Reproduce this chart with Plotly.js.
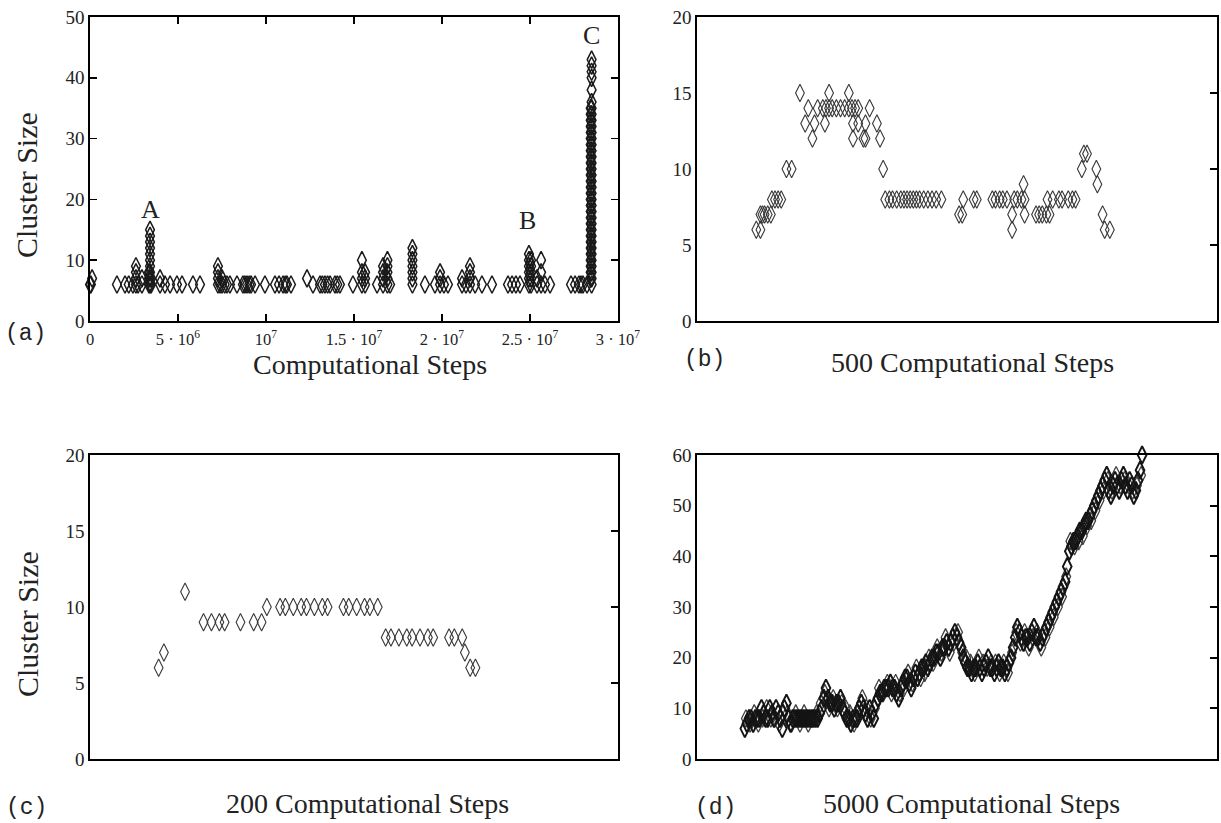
<!DOCTYPE html>
<html>
<head>
<meta charset="utf-8">
<script src="https://cdn.plot.ly/plotly-3.0.1.min.js"></script>
<style>html,body{margin:0;padding:0;background:#fff}#chart{width:1221px;height:823px}</style>
</head>
<body>
<div id="chart"></div>
<script>
// ---------- Panel (a): whole run, steps in units of 10^6 ----------
const stepsA = [
  0.00, 0.05, 0.12,
  1.53, 1.99, 2.20, 2.44,
  2.61, 2.61, 2.61, 2.61,
  2.73, 2.95, 2.95,
  3.35, 3.35, 3.35,
  3.41, 3.41, 3.41, 3.41, 3.41, 3.41, 3.41, 3.41, 3.41, 3.41,
  3.47, 3.47,
  3.98, 3.98, 4.26, 4.55, 4.94, 5.23, 5.85, 6.25,
  7.27, 7.27, 7.27, 7.27, 7.39, 7.50, 7.50, 7.65, 7.78, 7.95, 8.35,
  8.69, 8.80, 8.92, 9.05, 9.15, 9.38, 9.94,
  10.51, 10.74, 10.97, 11.10, 11.19, 11.42,
  12.33, 12.67,
  13.07, 13.20, 13.35, 13.50, 13.64, 13.92, 14.05, 14.20, 14.94,
  15.45, 15.45, 15.45, 15.45, 15.63, 15.63, 15.63,
  16.31,
  16.65, 16.65, 16.65, 16.65, 16.90, 16.90, 16.90, 16.90, 16.90, 17.05,
  18.32, 18.32, 18.32, 18.32, 18.32, 18.32, 18.32,
  19.03, 19.60, 19.89, 19.89, 19.89, 20.11, 20.34,
  21.14, 21.14, 21.36, 21.59, 21.59, 21.59, 21.59, 21.88, 22.27, 22.84,
  23.75, 23.98, 24.20, 24.43,
  24.94, 24.94, 24.94, 24.94, 24.94, 24.94,
  25.06, 25.06, 25.06, 25.06, 25.06,
  25.40, 25.40, 25.63, 25.63, 25.63, 25.85, 26.14,
  27.33, 27.56, 27.78, 27.90, 28.01, 28.24,
  28.45, 28.45, 28.45, 28.45, 28.45, 28.45, 28.45, 28.45, 28.45, 28.45,
  28.45, 28.45, 28.45, 28.45, 28.45, 28.45, 28.45, 28.45, 28.45, 28.45,
  28.45, 28.45, 28.45, 28.45, 28.45, 28.45, 28.45, 28.45, 28.45,
  28.50, 28.50, 28.50, 28.50, 28.50, 28.50, 28.50, 28.50, 28.50, 28.50,
  28.50, 28.50, 28.50, 28.50, 28.50, 28.50, 28.50, 28.50, 28.50, 28.50,
  28.50, 28.50, 28.50, 28.50, 28.50, 28.50, 28.50, 28.50, 28.50, 28.50,
  28.50, 28.50, 28.50, 28.50, 28.50, 28.50
];
const sizeA = [
  6, 6, 7,
  6, 6, 6, 6,
  6, 7, 8, 9,
  6, 6, 7,
  6, 7, 8,
  6, 7, 8, 9, 10, 11, 12, 13, 14, 15,
  7, 6,
  6, 7, 6, 6, 6, 6, 6, 6,
  6, 7, 8, 9, 6, 6, 7, 6, 6, 6, 6,
  6, 6, 6, 6, 6, 6, 6,
  6, 6, 6, 6, 6, 6,
  7, 6,
  6, 6, 6, 6, 6, 6, 6, 6, 6,
  6, 7, 8, 10, 6, 7, 8,
  6,
  6, 7, 8, 9, 6, 7, 8, 9, 10, 6,
  6, 7, 8, 9, 10, 11, 12,
  6, 6, 6, 7, 8, 6, 6,
  6, 7, 6, 6, 7, 8, 9, 6, 6, 6,
  6, 6, 6, 6,
  6, 7, 8, 9, 10, 11,
  6, 7, 8, 9, 10,
  6, 7, 6, 8, 10, 6, 6,
  6, 6, 6, 6, 6, 6,
  7, 8, 9, 10, 11, 12, 13, 14, 15, 16,
  17, 18, 19, 20, 21, 22, 23, 24, 25, 26,
  27, 28, 29, 30, 31, 32, 33, 34, 35,
  6, 7, 8, 9, 10, 11, 12, 13, 14, 15,
  16, 17, 18, 19, 20, 21, 22, 23, 24, 25,
  26, 27, 28, 29, 30, 31, 32, 33, 34, 35,
  36, 38, 40, 41, 42, 43
];
const tickValsA = [0, 5, 10, 15, 20, 25, 30];
const tickTextA = ['0', '5 · 10<sup>6</sup>', '10<sup>7</sup>', '1.5 · 10<sup>7</sup>',
                   '2 · 10<sup>7</sup>', '2.5 · 10<sup>7</sup>', '3 · 10<sup>7</sup>'];
const eventLabels = ['A', 'B', 'C'];
const eventSteps = [3.45, 24.87, 28.5];
const eventSizes = [18.3, 16.6, 47];

// ---------- Panel (b): 500 computational steps ----------
const stepsB = [
  57, 61, 61, 63, 65, 68, 71,
  72, 75, 78, 81,
  86, 91,
  99, 104, 107, 111, 113, 116,
  121, 123, 124, 127, 127, 130, 134, 138, 142, 146, 146, 149, 150, 150, 152, 155, 155,
  160, 162, 162, 166, 173, 176, 179,
  181, 185, 188, 192, 196, 199, 202, 205, 208, 211, 214, 218, 222, 226, 230, 235,
  252, 255, 256, 266, 269,
  284, 287, 291, 294, 298,
  303, 303, 305, 308, 312, 314, 315, 315,
  326, 329, 332, 336, 337, 339, 342, 348, 351, 357, 361, 364,
  370, 372, 375, 384, 385, 390, 392, 397
];
const sizeB = [
  6, 6, 7, 7, 7, 7, 7,
  8, 8, 8, 8,
  10, 10,
  15, 13, 14, 12, 13, 14,
  14, 13, 14, 14, 15, 14, 14, 14, 14, 14, 15, 14, 13, 12, 14, 14, 13,
  12, 13, 12, 14, 13, 12, 10,
  8, 8, 8, 8, 8, 8, 8, 8, 8, 8, 8, 8, 8, 8, 8, 8,
  7, 7, 8, 8, 8,
  8, 8, 8, 8, 8,
  7, 6, 8, 8, 8, 9, 8, 7,
  7, 7, 7, 7, 8, 7, 8, 8, 8, 8, 8, 8,
  10, 11, 11, 10, 9, 7, 6, 6
];

// ---------- Panel (c): 200 computational steps ----------
const stepsC = [
  26, 28, 36,
  43, 46, 49, 51,
  57,
  62, 65,
  67,
  72, 74, 77, 80, 82, 85, 88, 90,
  96, 98, 101, 104, 106, 109,
  112, 114, 117, 120, 122, 125, 128, 130,
  136, 138, 141,
  142,
  144, 146
];
const sizeC = [
  6, 7, 11,
  9, 9, 9, 9,
  9,
  9, 9,
  10,
  10, 10, 10, 10, 10, 10, 10, 10,
  10, 10, 10, 10, 10, 10,
  8, 8, 8, 8, 8, 8, 8, 8,
  8, 8, 8,
  7,
  6, 6
];

// ---------- Panel (d): 5000 computational steps (main track) ----------
const stepsD = [
  460, 480, 500, 520, 540, 560, 580, 600, 620, 640,
  660, 680, 700, 720, 740, 760, 780, 800, 820, 840,
  860, 880, 900, 920, 940, 960, 980, 1000, 1020, 1040,
  1060, 1080, 1100, 1120, 1140, 1160, 1180, 1200, 1220, 1240,
  1260, 1280, 1300, 1320, 1340, 1360, 1380, 1400, 1420, 1440,
  1460, 1480, 1500, 1520, 1540, 1560, 1580, 1600, 1620, 1640,
  1660, 1680, 1700, 1720, 1740, 1760, 1780, 1800, 1820, 1840,
  1860, 1880, 1900, 1920, 1940, 1960, 1980, 2000, 2020, 2040,
  2060, 2080, 2100, 2120, 2140, 2160, 2180, 2200, 2220, 2240,
  2260, 2280, 2300, 2320, 2340, 2360, 2380, 2400, 2420, 2440,
  2460, 2480, 2500, 2520, 2540, 2560, 2580, 2600, 2620, 2640,
  2660, 2680, 2700, 2720, 2740, 2760, 2780, 2800, 2820, 2840,
  2860, 2880, 2900, 2920, 2940, 2960, 2980, 3000, 3020, 3040,
  3060, 3080, 3100, 3120, 3140, 3160, 3180, 3200, 3220, 3240,
  3260, 3280, 3300, 3320, 3340, 3360, 3380, 3400, 3420, 3440,
  3460, 3480, 3500, 3520, 3540, 3560, 3580, 3600, 3620, 3640,
  3660, 3680, 3700, 3720, 3740, 3760, 3780, 3800, 3820, 3840,
  3860, 3880, 3900, 3920, 3940, 3960, 3980, 4000, 4020, 4040,
  4060, 4080, 4100, 4120, 4140, 4160, 4180, 4200, 4220, 4240,
  4260, 4280
];
const sizeD = [
  6, 7, 8, 8, 7, 8, 8, 8, 10, 9,
  8, 8, 10, 9, 8, 10, 9, 8, 6, 10,
  11, 8, 7, 8, 8, 8, 8, 8, 8, 8,
  8, 8, 8, 8, 8, 8, 9, 10, 12, 14,
  12, 11, 11, 10, 11, 11, 12, 10, 9, 8,
  8, 7, 8, 8, 8, 10, 11, 10, 9, 8,
  10, 9, 8, 11, 12, 13, 13, 14, 14, 14,
  15, 14, 14, 13, 12, 14, 15, 16, 16, 15,
  14, 16, 17, 16, 17, 18, 18, 19, 18, 19,
  20, 20, 21, 21, 20, 22, 22, 23, 22, 23,
  24, 25, 24, 23, 22, 20, 19, 18, 18, 17,
  18, 18, 19, 18, 17, 18, 19, 20, 18, 18,
  17, 18, 19, 18, 18, 17, 18, 19, 20, 22,
  24, 26, 25, 24, 23, 24, 24, 23, 25, 26,
  24, 24, 23, 24, 25, 26, 27, 28, 29, 30,
  31, 32, 33, 34, 35, 38, 41, 42, 43, 43,
  44, 45, 45, 46, 47, 47, 48, 49, 50, 51,
  52, 53, 54, 55, 56, 53, 52, 54, 55, 54,
  53, 55, 56, 54, 53, 55, 54, 52, 53, 55,
  57, 60
];
// ---------- Panel (d): spread of the band around the track ----------
const stepsD2 = [
  470, 510, 550, 590, 630, 670, 710, 750, 790, 830,
  870, 910, 950, 990, 1030, 1070, 1110, 1150, 1190, 1230,
  1270, 1310, 1350, 1390, 1430, 1470, 1510, 1550, 1590, 1630,
  1670, 1710, 1750, 1790, 1830, 1870, 1910, 1950, 1990, 2030,
  2070, 2110, 2150, 2190, 2230, 2270, 2310, 2350, 2390, 2430,
  2470, 2510, 2550, 2590, 2630, 2670, 2710, 2750, 2790, 2830,
  2870, 2910, 2950, 2990, 3030, 3070, 3110, 3150, 3190, 3230,
  3270, 3310, 3350, 3390, 3430, 3470, 3510, 3550, 3590, 3630,
  3670, 3710, 3750, 3790, 3830, 3870, 3910, 3950, 3990, 4030,
  4070, 4110, 4150, 4190, 4230, 4270
];
const sizeD2 = [
  8, 7, 9, 7, 8, 10, 8, 8, 7, 9,
  9, 7, 9, 7, 9, 7, 8, 9, 11, 13,
  10, 12, 10, 11, 10, 9, 7, 9, 12, 10,
  8, 10, 14, 13, 15, 13, 15, 13, 14, 17,
  15, 18, 16, 17, 20, 19, 22, 21, 24, 21,
  23, 25, 21, 20, 19, 17, 20, 19, 18, 19,
  19, 17, 19, 17, 21, 25, 23, 25, 22, 24,
  25, 22, 24, 26, 28, 30, 32, 36, 43, 42,
  43, 44, 46, 47, 49, 51, 53, 55, 53, 56,
  54, 55, 54, 53, 54, 56
];

// ---------- geometry & styling ----------
const W = 1221, H = 823;
const px = v => v / W;
const py = v => 1 - v / H;
const SERIF = 'Liberation Serif, Times New Roman, serif';
const MONO = 'Liberation Mono, Courier New, monospace';

function pts(x, y, xa, ya, color, lw, sz) {
  return {type: 'scatter', mode: 'markers', x: x, y: y, xaxis: xa, yaxis: ya,
          marker: {symbol: 'diamond-tall-open', size: sz, color: color, line: {color: color, width: lw}},
          cliponaxis: false, showlegend: false, hoverinfo: 'x+y'};
}
const data = [
  pts(stepsA, sizeA, 'x', 'y', '#1a1a1a', 1.5, 12.5),
  pts(stepsB, sizeB, 'x2', 'y2', '#383838', 1.1, 12.5),
  pts(stepsC, sizeC, 'x3', 'y3', '#383838', 1.1, 12.5),
  pts(stepsD2, sizeD2, 'x4', 'y4', '#404040', 1.3, 12.5),
  pts(stepsD, sizeD, 'x4', 'y4', '#141414', 1.9, 12.5),
  {type: 'scatter', x: [], y: [], xaxis: 'x2', yaxis: 'y5', showlegend: false},
  {type: 'scatter', x: [], y: [], xaxis: 'x3', yaxis: 'y6', showlegend: false},
  {type: 'scatter', x: [], y: [], xaxis: 'x4', yaxis: 'y7', showlegend: false}
];

const base = {showline: true, linecolor: '#000', linewidth: 1.7, mirror: true,
              showgrid: false, zeroline: false, fixedrange: true,
              tickfont: {family: SERIF, size: 19, color: '#222'}};
const colL = [px(90), px(618)], colR = [px(697), px(1217)];
const rowT = [py(321), py(17)], rowB = [py(759), py(455)];

function rightTicks(over, xa, dom, range, vals) {
  return {overlaying: over, side: 'right', anchor: xa, domain: dom, range: range,
          tickvals: vals, ticks: 'inside', ticklen: 7, tickwidth: 1.7, tickcolor: '#000',
          showticklabels: false, showline: false, showgrid: false, zeroline: false, fixedrange: true};
}

const layout = {
  width: W, height: H,
  margin: {l: 0, r: 0, t: 0, b: 0, pad: 0},
  paper_bgcolor: '#fff', plot_bgcolor: 'rgba(0,0,0,0)',
  showlegend: false,
  font: {family: SERIF, color: '#222'},
  xaxis: Object.assign({}, base, {domain: colL, anchor: 'y', range: [0, 30],
    tickvals: tickValsA, ticktext: tickTextA, ticks: 'inside', ticklen: 7, tickwidth: 1.7,
    tickcolor: '#000', mirror: 'allticks', tickfont: {family: SERIF, size: 16.5, color: '#222'},
    ticklabelstandoff: 2}),
  yaxis: Object.assign({}, base, {domain: rowT, anchor: 'x', range: [0, 50], dtick: 10,
    ticks: 'inside', ticklen: 7, tickwidth: 1.7, tickcolor: '#000', mirror: 'allticks'}),
  xaxis2: Object.assign({}, base, {domain: colR, anchor: 'y2', range: [0, 500],
    ticks: '', showticklabels: false}),
  yaxis2: Object.assign({}, base, {domain: rowT, anchor: 'x2', range: [0, 20],
    tickvals: [0, 5, 10, 15, 20], ticks: ''}),
  yaxis5: rightTicks('y2', 'x2', rowT, [0, 20], [5, 10, 15]),
  xaxis3: Object.assign({}, base, {domain: colL, anchor: 'y3', range: [0, 200],
    ticks: '', showticklabels: false}),
  yaxis3: Object.assign({}, base, {domain: rowB, anchor: 'x3', range: [0, 20],
    tickvals: [0, 5, 10, 15, 20], ticks: ''}),
  yaxis6: rightTicks('y3', 'x3', rowB, [0, 20], [5, 10, 15]),
  xaxis4: Object.assign({}, base, {domain: colR, anchor: 'y4', range: [0, 5000],
    ticks: '', showticklabels: false}),
  yaxis4: Object.assign({}, base, {domain: rowB, anchor: 'x4', range: [0, 60],
    tickvals: [0, 10, 20, 30, 40, 50, 60], ticks: ''}),
  yaxis7: rightTicks('y4', 'x4', rowB, [0, 60], [10, 20, 30, 40, 50]),
  annotations: []
};

function txt(text, x, y, size, family, angle) {
  return {text: text, x: px(x), y: py(y), xref: 'paper', yref: 'paper',
          xanchor: 'center', yanchor: 'middle', showarrow: false,
          textangle: angle || 0, font: {family: family, size: size, color: '#222'}};
}
layout.annotations.push(
  txt('Computational Steps', 370, 364, 28, SERIF),
  txt('500 Computational Steps', 972, 362, 28, SERIF),
  txt('200 Computational Steps', 367, 803, 28, SERIF),
  txt('5000 Computational Steps', 971, 803, 28, SERIF),
  txt('Cluster Size', 27, 185, 30, SERIF, -90),
  txt('Cluster Size', 27, 624, 30, SERIF, -90),
  txt('(a)', 25, 334, 23, MONO),
  txt('(b)', 704, 360, 23, MONO),
  txt('(c)', 26, 808, 23, MONO),
  txt('(d)', 715, 808, 23, MONO)
);
for (let i = 0; i < eventLabels.length; i++) {
  layout.annotations.push({text: eventLabels[i], x: eventSteps[i], y: eventSizes[i],
    xref: 'x', yref: 'y', showarrow: false, xanchor: 'center', yanchor: 'middle',
    font: {family: SERIF, size: 26, color: '#222'}});
}

Plotly.newPlot('chart', data, layout, {staticPlot: true, displayModeBar: false});
</script>
</body>
</html>
